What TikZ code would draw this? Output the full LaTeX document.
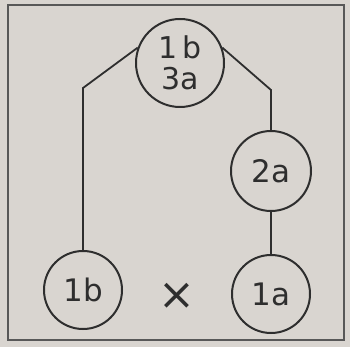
\documentclass[tikz,border=0pt]{standalone}
\usepackage{fontspec}
\setmainfont{DejaVu Sans}
\definecolor{paper}{HTML}{D9D5D0}
\definecolor{ink}{HTML}{2E2E2E}
\begin{document}
\begin{tikzpicture}[x=1pt,y=-1pt,
  ball/.style={circle,draw=ink,line width=2pt,inner sep=0pt,text=ink,font=\fontsize{31}{31}\selectfont},
  link/.style={draw=ink,line width=1.8pt}]
\fill[paper] (0,0) rectangle (350,347);
\useasboundingbox (0,0) rectangle (350,347);
\draw[ink!80,line width=1.5pt] (8,5) rectangle (344,340);
\node[ball,minimum size=88pt,align=center,font=\fontsize{30}{31}\selectfont] (top) at (180,63) {1\,b\\3a};
\node[ball,minimum size=80pt] (two) at (271,171) {2a};
\node[ball,minimum size=78pt] (lb) at (83,290) {1b};
\node[ball,minimum size=78pt] (la) at (271,294) {1a};
\node[text=ink,font=\fontsize{44}{44}\selectfont] (x) at (177,296) {×};
\coordinate (lc) at (83,88);
\coordinate (rc) at (271,90);
\draw[link] (top.160) -- (lc) -- (lb.north);
\draw[link] (top.20) -- (rc) -- (two.north);
\draw[link] (two.south) -- (la.north);
\end{tikzpicture}
\end{document}
